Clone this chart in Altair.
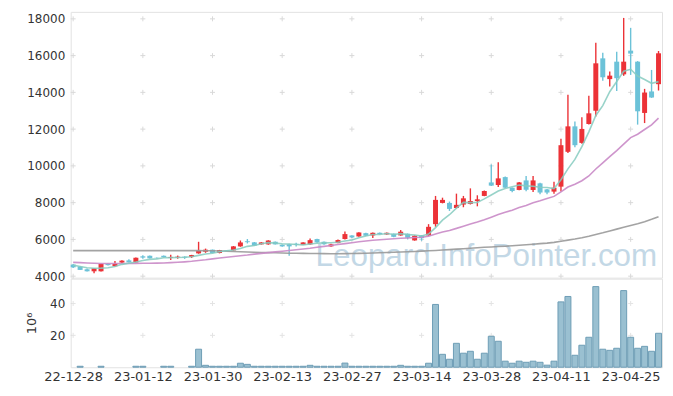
import json
import altair as alt
import pandas as pd

# ---------------- data ----------------
opens = [4630, 4520, 4375, 4265, 4265, 4670, 4540, 4740, 4860, 4750,
         5080, 5110, 5000, 5110, 4990, 5010, 5060, 5045, 5240, 5330,
         5440, 5260, 5410, 5400, 5620, 5900, 5840, 5730, 5730, 5873,
         5700, 5740, 5760, 5700, 5730, 6020, 5873, 5620, 5800, 6020,
         6215, 6160, 6340, 6215, 6360, 6270, 6310, 6215, 6310, 5945,
         6215, 6215, 6830, 7985, 7984, 7710, 7895, 7930, 8090, 8365,
         9100, 8960, 9390, 8810, 8690, 9210, 8690, 9050, 8720, 8600,
         8870, 10765, 12150, 11250, 12280, 13000, 15850, 14720, 15670, 14980,
         16270, 15670, 12880, 14050, 14445]
highs = [4660, 4540, 4420, 4440, 4680, 4700, 4830, 4860, 4920, 5010,
         5140, 5120, 5020, 5130, 5170, 5120, 5080, 5160, 5870, 5500,
         5450, 5430, 5420, 5640, 5940, 6020, 5860, 5850, 5960, 5890,
         5720, 5760, 5820, 5850, 6050, 6030, 5890, 5760, 6000, 6430,
         6230, 6390, 6360, 6370, 6380, 6380, 6320, 6510, 6320, 6220,
         6230, 6830, 8365, 8270, 8060, 8490, 8365, 8777, 8400, 8660,
         10079, 10200, 9420, 8830, 9120, 9450, 9450, 9080, 8740, 9140,
         11480, 13870, 12420, 12640, 13810, 16700, 16160, 15130, 16210, 18050,
         17510, 15700, 14190, 15220, 16250]
lows = [4450, 4330, 4250, 4160, 4250, 4580, 4520, 4720, 4740, 4740,
        4950, 4960, 4960, 5020, 4880, 4950, 4940, 4990, 5220, 5270,
        5250, 5240, 5380, 5390, 5600, 5780, 5650, 5720, 5710, 5720,
        5600, 5115, 5620, 5690, 5710, 5820, 5710, 5600, 5790, 6000,
        6080, 6140, 6180, 6070, 6270, 6250, 6120, 6200, 6000, 5930,
        5927, 6200, 6685, 7960, 7550, 7690, 7750, 7900, 7800, 8350,
        8900, 8850, 8790, 8560, 8670, 8620, 8580, 8456, 8456, 8490,
        8600, 10700, 11020, 11200, 12250, 12690, 14625, 14320, 14080, 14900,
        14950, 12245, 12330, 13700, 14100]
closes = [4480, 4340, 4265, 4430, 4670, 4600, 4670, 4845, 4750, 5000,
          5010, 4970, 4980, 5030, 5045, 5060, 5010, 5150, 5390, 5440,
          5260, 5420, 5390, 5620, 5835, 5850, 5660, 5835, 5940, 5730,
          5620, 5620, 5700, 5835, 5960, 5835, 5730, 5730, 5965, 6290,
          6106, 6377, 6200, 6360, 6290, 6360, 6140, 6420, 6090, 6200,
          6070, 6685, 8150, 8150, 7660, 7880, 8235, 8090, 8180, 8634,
          8925, 9320, 8815, 8635, 9100, 8700, 9210, 8550, 8550, 8813,
          11125, 12150, 11125, 12010, 12860, 15580, 14820, 14910, 14770, 15670,
          16110, 12970, 13990, 13720, 16125]
volumes = [0, 0.6, 0, 0, 0.6, 0, 0, 0, 0, 0.6,
           0.6, 0, 0, 0.6, 0.6, 0, 0, 0.6, 11.3, 1.2,
           0.6, 0.6, 0.6, 0.6, 2.5, 1.8, 0.6, 0.6, 0.6, 0.6,
           0.6, 0.6, 0.6, 0.6, 1.2, 0.6, 0.6, 0.6, 0.6, 2.6,
           0.6, 0.6, 0.6, 0.6, 0.6, 0.6, 0.6, 1.2, 0.6, 0.6,
           0.6, 2.5, 39.4, 8.1, 5.0, 15.0, 8.8, 10.0, 5.0, 8.8,
           19.4, 16.3, 3.8, 2.5, 3.8, 3.1, 3.8, 3.1, 1.3, 3.8,
           41.0, 44.4, 7.5, 13.8, 18.8, 50.6, 11.3, 10.6, 11.9, 48.1,
           18.8, 11.9, 13.1, 10.0, 21.3]
ma5 = [4600, 4530, 4460, 4430, 4437, 4461, 4527, 4643, 4707, 4773,
       4855, 4915, 4942, 4998, 5007, 5017, 5025, 5059, 5131, 5210,
       5250, 5332, 5380, 5426, 5505, 5623, 5671, 5760, 5824, 5803,
       5757, 5749, 5722, 5701, 5747, 5790, 5812, 5818, 5844, 5910,
       5964, 6094, 6188, 6267, 6267, 6317, 6270, 6314, 6260, 6242,
       6184, 6293, 6639, 7051, 7343, 7705, 8015, 8003, 8009, 8204,
       8413, 8630, 8775, 8866, 8959, 8914, 8892, 8839, 8822, 8765,
       9250, 9838, 10353, 11045, 11854, 12745, 13279, 14036, 14588, 15150,
       15256, 14886, 14702, 14492, 14583]
ma20 = [4750, 4735, 4715, 4700, 4690, 4685, 4685, 4690, 4690, 4695,
        4700, 4705, 4710, 4720, 4735, 4755, 4780, 4810, 4850, 4890,
        4940, 4990, 5030, 5070, 5110, 5150, 5200, 5240, 5280, 5320,
        5360, 5400, 5440, 5480, 5520, 5570, 5620, 5670, 5720, 5770,
        5820, 5870, 5910, 5950, 5980, 6010, 6040, 6060, 6080, 6100,
        6120, 6170, 6290, 6400, 6490, 6600, 6720, 6840, 6950, 7070,
        7210, 7350, 7480, 7590, 7730, 7850, 7990, 8100, 8220, 8340,
        8590, 8850, 9000, 9190, 9450, 9830, 10160, 10500, 10830, 11180,
        11540, 11720, 11980, 12230, 12600]
ma60 = [5390, 5390, 5390, 5390, 5390, 5390, 5390, 5390, 5390, 5390,
        5390, 5390, 5390, 5390, 5390, 5390, 5390, 5390, 5390, 5385,
        5380, 5370, 5360, 5345, 5330, 5315, 5300, 5290, 5280, 5270,
        5260, 5250, 5245, 5240, 5235, 5230, 5225, 5220, 5220, 5225,
        5230, 5240, 5250, 5260, 5270, 5285, 5300, 5315, 5330, 5345,
        5360, 5380, 5400, 5420, 5445, 5470, 5495, 5520, 5545, 5570,
        5590, 5610, 5630, 5655, 5680, 5710, 5740, 5770, 5800, 5840,
        5900, 5960, 6020, 6090, 6170, 6270, 6360, 6460, 6560, 6660,
        6760, 6850, 6960, 7090, 7230]

tick_idx = [0, 10, 20, 30, 40, 50, 60, 70, 80]
tick_labels = ["22-12-28", "23-01-12", "23-01-30", "23-02-13", "23-02-27",
               "23-03-14", "23-03-28", "23-04-11", "23-04-25"]
price_ticks = [4000, 6000, 8000, 10000, 12000, 14000, 16000, 18000]
vol_ticks = [20, 40]
watermark = "Leopard.InfoPointer.com"

# ---------------- styling ----------------
RED = "#ec3237"
BLUE = "#6cc2d8"
FONT = "DejaVu Sans"
TXT = "#333333"
W = 594

n = len(closes)
df = pd.DataFrame({"i": list(range(n)), "o": opens, "h": highs, "l": lows,
                   "c": closes, "v": volumes, "ma5": ma5, "ma20": ma20, "ma60": ma60})

xs = alt.Scale(domain=[-0.35, 84.5], nice=False, zero=False, padding=0)
ys = alt.Scale(domain=[3920, 18380], nice=False, zero=False, padding=0)
vs = alt.Scale(domain=[0, 55.6], nice=False, padding=0)

cross_path = "M-1,0L1,0M0,-1L0,1"
cross_p = pd.DataFrame([{"i": a, "p": b} for a in tick_idx for b in price_ticks])
cross_v = pd.DataFrame([{"i": a, "p": b} for a in tick_idx for b in vol_ticks])

color_cond = alt.condition("datum.c >= datum.o", alt.value(RED), alt.value(BLUE))

xnone = alt.X("i:Q", scale=xs, axis=None)
yaxis = alt.Axis(values=price_ticks, format="d", ticks=False, domain=False, grid=False,
                 labelPadding=6, labelFontSize=12, labelColor=TXT, labelFont=FONT,
                 title=None)

base = alt.Chart(df)

wm = alt.Chart(pd.DataFrame({"t": [watermark]})).mark_text(
    align="left", baseline="alphabetic", fontSize=31.5,
    font="Liberation Sans", color="#c3d8e6"
).encode(text="t:N", x=alt.value(246), y=alt.value(255))

crosses_p = alt.Chart(cross_p).mark_point(
    shape=cross_path, size=25, filled=False, stroke="#d9d9d9", strokeWidth=1, opacity=1
).encode(x=xnone, y=alt.Y("p:Q", scale=ys, axis=yaxis))

wicks = base.mark_rule(strokeWidth=1.4).encode(
    x=xnone, y=alt.Y("l:Q", scale=ys, axis=yaxis), y2="h:Q", color=color_cond)
bodies = base.mark_bar(size=5).encode(
    x=xnone, y=alt.Y("o:Q", scale=ys, axis=yaxis), y2="c:Q", color=color_cond)

def ma_line(field, col, op):
    return base.mark_line(strokeWidth=1.6, color=col, opacity=op).encode(
        x=xnone, y=alt.Y(f"{field}:Q", scale=ys, axis=yaxis))

price = alt.layer(
    wm, crosses_p, wicks, bodies,
    ma_line("ma60", "#999999", 0.9),
    ma_line("ma20", "#c98ac6", 0.9),
    ma_line("ma5", "#86cbc0", 0.85),
).properties(width=W, height=267)

label_expr = json.dumps(tick_labels) + "[round(datum.value / 10)]"
xaxis = alt.Axis(values=tick_idx, labelExpr=label_expr, ticks=False, domain=False,
                 grid=False, labelPadding=3, labelFontSize=13, labelColor=TXT,
                 labelFont=FONT, title=None, labelFlush=False, labelOverlap=False)
vaxis = alt.Axis(values=vol_ticks, format="d", ticks=False, domain=False, grid=False,
                 labelPadding=6, labelFontSize=12, labelColor=TXT, labelFont=FONT,
                 title="10⁶", titleFontSize=13, titleFontWeight="normal",
                 titleColor=TXT, titleFont=FONT, titlePadding=11)

crosses_v = alt.Chart(cross_v).mark_point(
    shape=cross_path, size=25, filled=False, stroke="#d9d9d9", strokeWidth=1
).encode(x=alt.X("i:Q", scale=xs, axis=xaxis), y=alt.Y("p:Q", scale=vs, axis=vaxis))

vbars = base.transform_filter("datum.v > 0").mark_bar(
    size=6, fill="#9ac0d1", stroke="#6e9db5", strokeWidth=1
).encode(x=alt.X("i:Q", scale=xs, axis=xaxis), y=alt.Y("v:Q", scale=vs, axis=vaxis))

volume = alt.layer(crosses_v, vbars).properties(width=W, height=89)

chart = alt.vconcat(price, volume, spacing=1, bounds="flush").properties(
    padding={"left": 17, "top": 2, "right": 2, "bottom": 4}
).configure_view(stroke="#e2e2e2")

chart.save("out.html", embed_options={"renderer": "svg", "actions": False})
